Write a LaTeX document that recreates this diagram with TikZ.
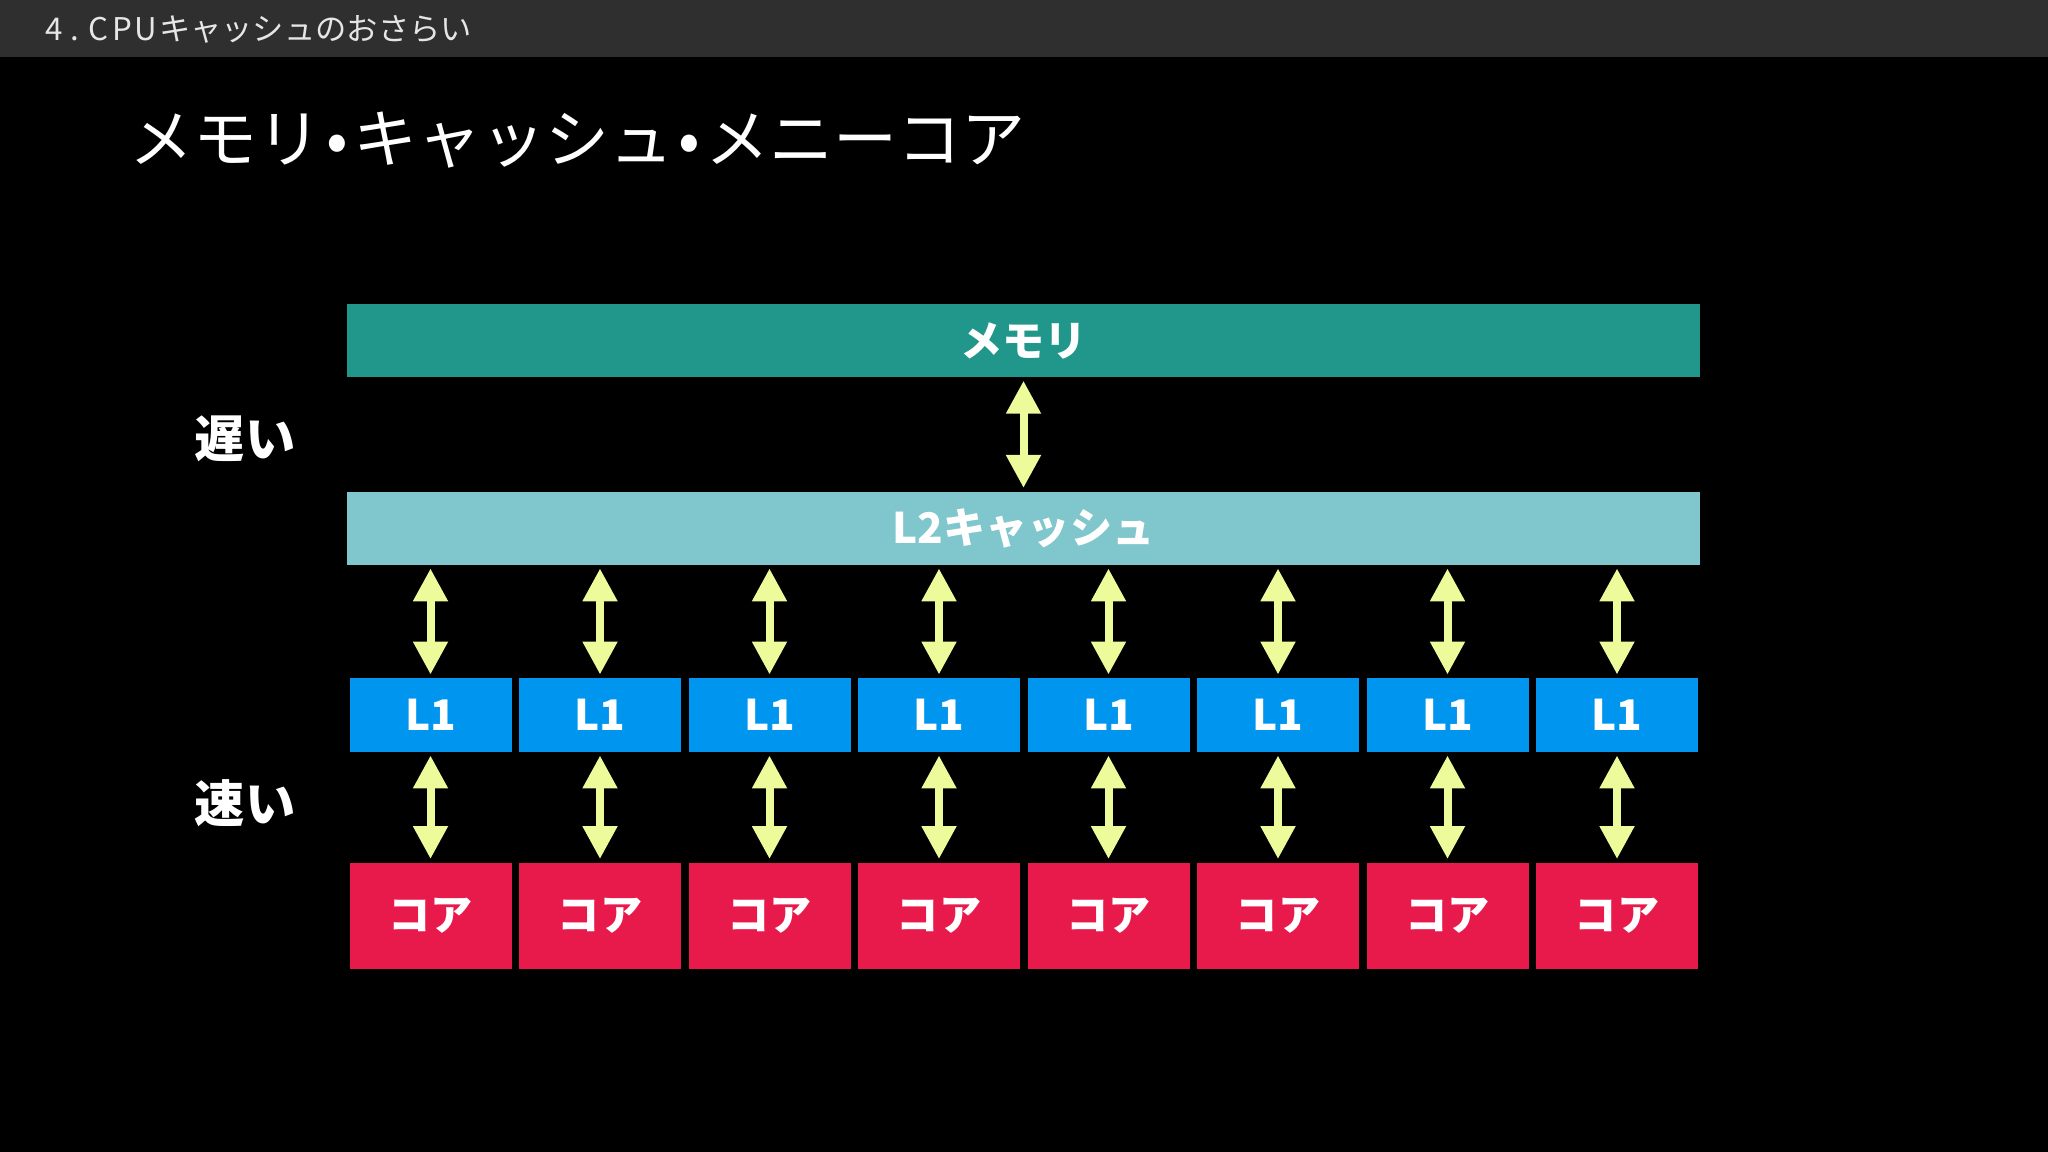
\documentclass[tikz,border=0pt]{standalone}
\usepackage{fontspec}
\setmainfont{Noto Sans CJK JP}
\usetikzlibrary{arrows.meta}
\definecolor{hdr}{HTML}{2F2F2F}
\definecolor{memc}{HTML}{21968A}
\definecolor{l2c}{HTML}{80C6CD}
\definecolor{l1c}{HTML}{0096EF}
\definecolor{corec}{HTML}{E8194B}
\definecolor{arrc}{HTML}{EDFB9B}
\definecolor{hdrtxt}{HTML}{E6E6E6}
\newcommand{\tdot}{\makebox[0.5em][c]{•}}
\begin{document}
\begin{tikzpicture}[x=0.1mm,y=-0.1mm,
  lbl/.style={text=white, inner sep=0, font=\bfseries\fontsize{12}{14}\selectfont},
  bar/.style={lbl, minimum width=135.3mm, minimum height=7.3mm},
  l1box/.style={lbl, fill=l1c, minimum width=16.2mm, minimum height=7.35mm},
  corebox/.style={lbl, fill=corec, minimum width=16.2mm, minimum height=10.65mm},
  side/.style={text=white, inner sep=0, font=\bfseries\fontsize{14.3}{16}\selectfont},
  dbl/.style={draw=arrc, line width=0.8mm, arrows={Triangle[width=3.3mm,length=3.3mm]-Triangle[width=3.3mm,length=3.3mm]}, shorten <=0.3mm, shorten >=0.3mm}
]
\useasboundingbox (0,0) rectangle (2048,1152);
\fill[black] (0,0) rectangle (2048,1152);
\fill[hdr] (0,0) rectangle (2048,57.5);
\node[anchor=west, inner sep=0, text=hdrtxt, font=\fontsize{8.9}{10}\selectfont] (hdrtext) at (45,29) {4\kern.25em.\kern.3em C\kern.1em P\kern.1em U\kern.05em キャッシュのおさらい};
\node[anchor=west, inner sep=0, text=white, font=\fontsize{18.2}{20}\selectfont] (title) at (129,140) {メモリ\tdot キャッシュ\tdot メニーコア};

\node[bar, fill=memc] (mem) at (1023.5,340.5) {メモリ};
\node[bar, fill=l2c] (l2) at (1023.5,528.2) {L2キャッシュ};
\draw[dbl] (mem.south) -- (l2.north);

\foreach \i in {1,...,8}{
  \node[l1box] (l1-\i) at ({430.5+169.5*(\i-1)},715) {L1};
  \node[corebox] (core-\i) at ({430.5+169.5*(\i-1)},916) {コア};
  \draw[dbl] (l1-\i.north |- l2.south) -- (l1-\i.north);
  \draw[dbl] (l1-\i.south) -- (core-\i.north);
}

\node[side] (slow) at (245,439) {遅い};
\node[side] (fast) at (245,803) {速い};
\end{tikzpicture}
\end{document}
